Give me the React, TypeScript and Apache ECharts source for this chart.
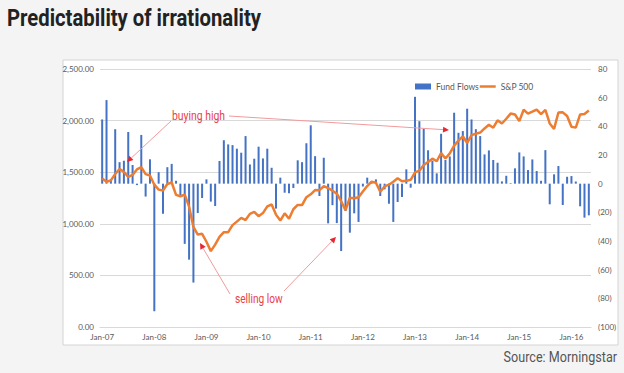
import React, { useEffect, useRef } from "react";
import * as echarts from "echarts";

const years = ["07", "08", "09", "10", "11", "12", "13", "14", "15", "16"];
const months = ["Jan", "Feb", "Mar", "Apr", "May", "Jun", "Jul", "Aug", "Sep", "Oct", "Nov", "Dec"];
const lastMonthCount = 5; // Jan-16 .. May-16

const categories: string[] = [];
years.forEach((y, yi) => {
  const n = yi === years.length - 1 ? lastMonthCount : 12;
  for (let m = 0; m < n; m++) categories.push(`${months[m]}-${y}`);
});

// Fund flows (right axis)
const fundFlows = [
  44.8, 58.3, 3, 38, 15, 16, 36, 13, -1, 34, -9, 17,
  -89, 8, -21, 11.5, 13.8, 2, -9, -42, -53, -69, -20.5, -10,
  3, -12.5, -15.6, 15.8, 30.3, 27.4, 26.9, 24.4, 21.6, 33.2, 13.4, 17.4,
  25.8, 17.6, 24.4, 11.1, -17.4, 4.2, -6.3, -6.7, -3, 16.3, 15, 28.2,
  40.7, 19.2, -8.6, 18.1, -27.7, -15, -27.5, -47, -19.1, -34.2, -20.7, -26.7,
  -2, 4.2, 1, 3, -8.6, -4, -14, -26.7, -12.8, -9.3, 10, -2.8,
  60.6, 43.6, 38.3, 23.3, 16, 7.2, 34.8, 16.5, 19, 49.5, 35.5, 36.7,
  52.3, 44.8, 38, 33.2, 20.4, 23.2, 16.5, 14.6, 1.6, 5.5, 0.4, 10.7,
  21.8, 19, 9.5, 16.9, 8.8, 2, 23.4, -14.4, 6.5, 12.3, -14.9, 4.8,
  5.3, 1.5, -15.8, -23.7, -22.1,
];

// S&P 500 (left axis)
const sp500 = [
  1438, 1407, 1421, 1482, 1531, 1503, 1455, 1474, 1527, 1549, 1481, 1468,
  1379, 1331, 1323, 1386, 1400, 1280, 1267, 1283, 1166, 969, 896, 903,
  826, 735, 798, 873, 919, 919, 987, 1021, 1057, 1036, 1096, 1115,
  1074, 1104, 1169, 1187, 1089, 1031, 1102, 1049, 1141, 1183, 1181, 1258,
  1286, 1327, 1326, 1364, 1345, 1321, 1292, 1219, 1131, 1253, 1247, 1258,
  1312, 1366, 1408, 1398, 1310, 1362, 1379, 1407, 1441, 1412, 1416, 1426,
  1498, 1515, 1569, 1598, 1631, 1606, 1686, 1633, 1682, 1757, 1806, 1848,
  1783, 1859, 1872, 1884, 1924, 1960, 1931, 2003, 1972, 2018, 2068, 2059,
  1995, 2105, 2068, 2086, 2107, 2063, 2104, 1972, 1920, 2079, 2080, 2044,
  1940, 1932, 2060, 2065, 2097,
];

const NARROW = "Roboto, 'Liberation Sans', sans-serif";
const AXISFONT = "Lato, 'Open Sans', sans-serif";

function arrow(x1: number, y1: number, x2: number, y2: number) {
  const dx = x2 - x1;
  const dy = y2 - y1;
  const len = Math.hypot(dx, dy);
  const ux = dx / len;
  const uy = dy / len;
  const L = 6;
  const W = 3;
  const bx = x2 - ux * L;
  const by = y2 - uy * L;
  return [
    {
      type: "line",
      z: 100,
      shape: { x1, y1, x2: bx, y2: by },
      style: { stroke: "#f29a9c", lineWidth: 1 },
    },
    {
      type: "polygon",
      z: 100,
      shape: {
        points: [
          [x2, y2],
          [bx - uy * W, by + ux * W],
          [bx + uy * W, by - ux * W],
        ],
      },
      style: { fill: "#e8262f" },
    },
  ];
}

export default function App() {
  const ref = useRef<HTMLDivElement>(null);

  useEffect(() => {
    if (!ref.current) return;
    const chart = echarts.init(ref.current, null, { renderer: "svg" });
    chart.setOption({
      animation: false,
      backgroundColor: "#f4f4f4",
      legend: {
        left: 410,
        top: 77,
        itemWidth: 16,
        itemHeight: 6,
        itemGap: 1,
        symbolKeepAspect: true,
        textStyle: { fontSize: 8.5, color: "#595959", fontFamily: AXISFONT },
        data: [
          { name: "Fund Flows", icon: "rect" },
          { name: "S&P 500", icon: "path://M0,0H16V2.5H0Z" },
        ],
      },
      grid: { left: 100, right: 33, top: 69, bottom: 46 },
      xAxis: {
        type: "category",
        data: categories,
        boundaryGap: true,
        axisLine: { show: true, lineStyle: { color: "#d9d9d9" } },
        axisTick: { show: false },
        axisLabel: {
          interval: 11,
          fontSize: 8,
          color: "#595959",
          fontFamily: AXISFONT,
          margin: 6,
        },
      },
      yAxis: [
        {
          type: "value",
          min: 0,
          max: 2500,
          interval: 500,
          axisLine: { show: false },
          axisTick: { show: false },
          splitLine: { lineStyle: { color: "#d9d9d9", width: 1 } },
          axisLabel: {
            fontSize: 8,
            color: "#595959",
            fontFamily: AXISFONT,
            margin: 6,
            formatter: (v: number) =>
              v.toLocaleString("en-US", { minimumFractionDigits: 2, maximumFractionDigits: 2 }),
          },
        },
        {
          type: "value",
          min: -100,
          max: 80,
          interval: 20,
          axisLine: { show: false },
          axisTick: { show: false },
          splitLine: { show: false },
          axisLabel: {
            fontSize: 8,
            color: "#595959",
            fontFamily: AXISFONT,
            margin: 7,
            formatter: (v: number) => (v < 0 ? `(${-v})` : `${v}`),
          },
        },
      ],
      series: [
        {
          name: "Fund Flows",
          type: "bar",
          yAxisIndex: 1,
          data: fundFlows,
          barWidth: 2,
          itemStyle: { color: "#4472C4" },
        },
        {
          name: "S&P 500",
          type: "line",
          yAxisIndex: 0,
          data: sp500,
          symbol: "none",
          z: 5,
          lineStyle: { color: "#ED7D31", width: 2.5 },
          itemStyle: { color: "#ED7D31" },
        },
      ],
      graphic: [
        {
          type: "rect",
          z: -10,
          silent: true,
          shape: { x: 63, y: 60, width: 555, height: 285 },
          style: { fill: "#ffffff", stroke: "#d4d4d4", lineWidth: 1 },
        },
        {
          type: "text",
          z: 100,
          x: 7,
          y: 17,
          scaleX: 0.845,
          style: {
            text: "Predictability of irrationality",
            fill: "#222222",
            fontSize: 24,
            fontWeight: "bold",
            fontFamily: NARROW,
            verticalAlign: "middle",
          },
        },
        {
          type: "text",
          z: 100,
          x: 172,
          y: 116,
          scaleX: 0.8,
          style: {
            text: "buying high",
            fill: "#e8414a",
            fontSize: 13,
            fontFamily: NARROW,
            verticalAlign: "middle",
          },
        },
        {
          type: "text",
          z: 100,
          x: 235,
          y: 299,
          scaleX: 0.78,
          style: {
            text: "selling low",
            fill: "#e8414a",
            fontSize: 13,
            fontFamily: NARROW,
            verticalAlign: "middle",
          },
        },
        ...arrow(171, 121, 127, 162),
        ...arrow(229, 116, 449, 130),
        ...arrow(230, 294, 200, 243),
        ...arrow(284, 291, 336, 237),
        {
          type: "text",
          z: 100,
          x: 617,
          y: 357,
          scaleX: 0.84,
          style: {
            text: "Source: Morningstar",
            fill: "#555555",
            fontSize: 15,
            fontFamily: NARROW,
            align: "right",
            verticalAlign: "middle",
          },
        },
      ],
    });
    return () => chart.dispose();
  }, []);

  return (
    <div
      ref={ref}
      style={{ position: "fixed", left: 0, top: 0, width: 624, height: 373 }}
    />
  );
}
